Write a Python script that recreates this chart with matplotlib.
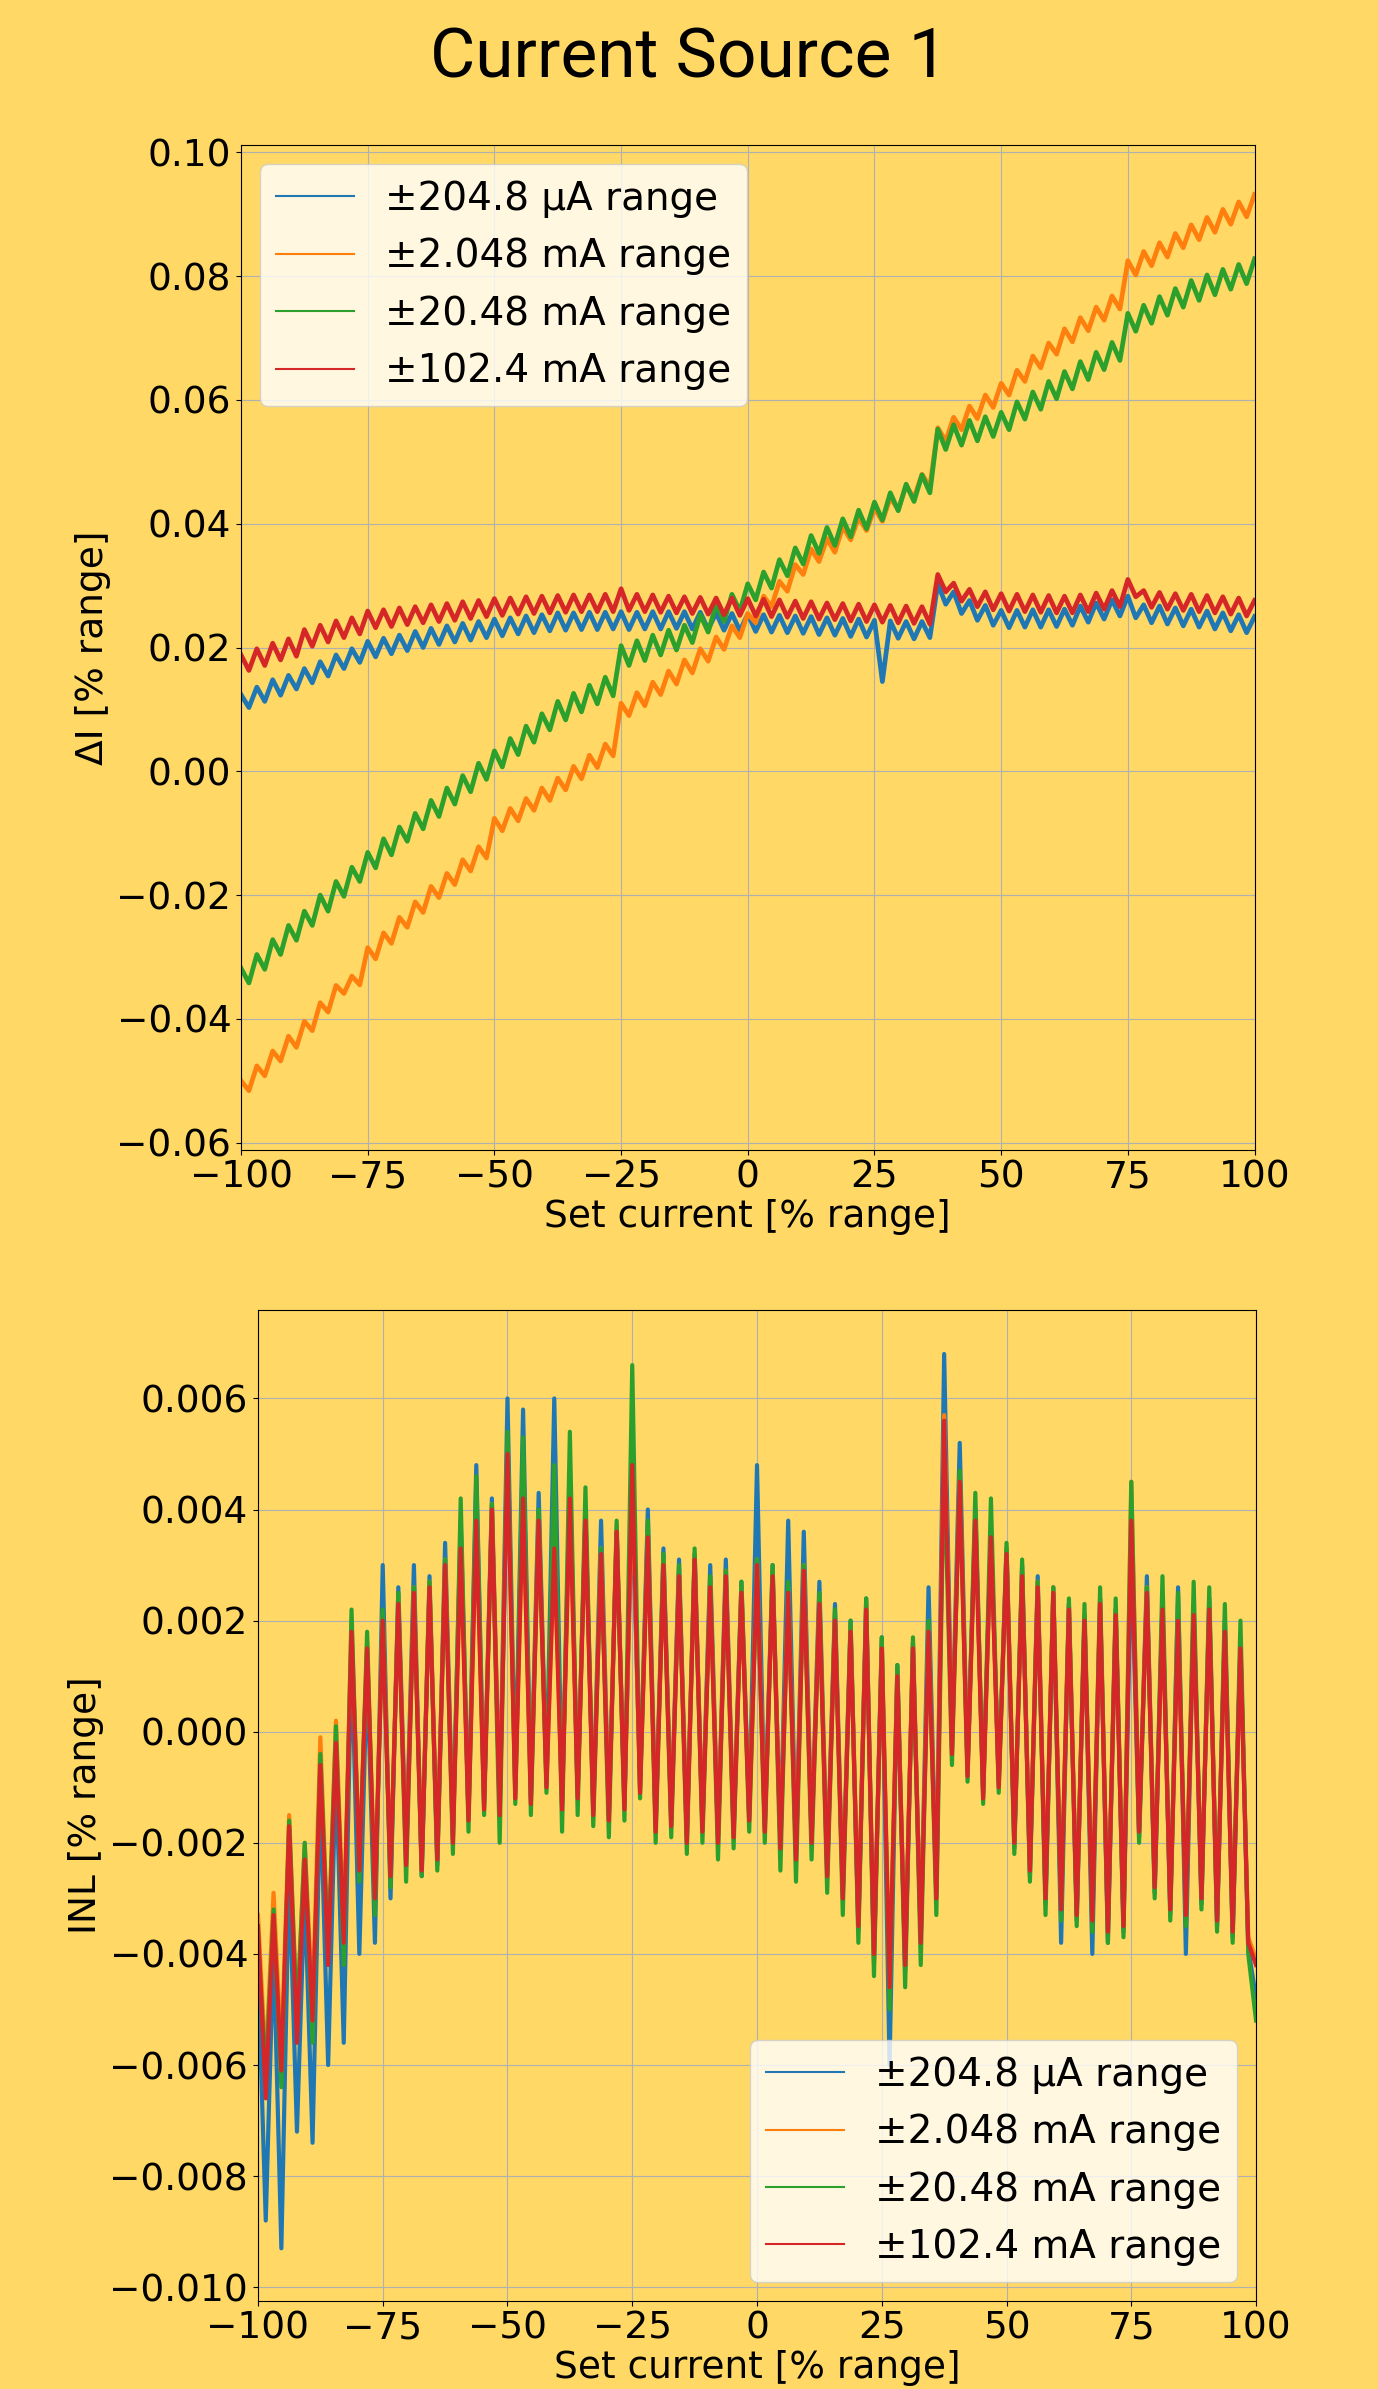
"""Current Source 1: DAC error (top) and INL (bottom) for four current ranges."""

import matplotlib

matplotlib.use("Agg")
import matplotlib.pyplot as plt
import numpy as np

BG = "#FFD865"
COLORS = ["#1f77b4", "#ff7f0e", "#2ca02c", "#d62728"]
FONT = 27

LABELS = ["±204.8 µA range", "±2.048 mA range", "±20.48 mA range", "±102.4 mA range"]

# set current sweep, % of range (129 evenly spaced points)
SET_CURRENT = np.linspace(-100, 100, 129)

# delta I, in units of 1e-4 % range
DI_204UA = [
    124, 103, 136, 113, 148, 123, 155, 133, 166, 143, 177, 154, 188, 166, 198, 176, 210,
    185, 215, 190, 220, 195, 226, 200, 231, 205, 235, 209, 239, 212, 242, 216, 246,
    219, 248, 222, 251, 224, 253, 227, 256, 228, 256, 229, 257, 229, 257, 230, 258,
    229, 257, 230, 258, 230, 258, 231, 258, 230, 257, 229, 256, 228, 255, 227, 254,
    226, 253, 225, 252, 224, 251, 223, 250, 221, 248, 220, 247, 218, 246, 217, 244,
    145, 243, 215, 242, 214, 242, 216, 303, 270, 290, 255, 276, 244, 268, 236, 260,
    232, 260, 233, 261, 233, 261, 234, 262, 236, 267, 241, 272, 246, 277, 251, 283,
    248, 269, 240, 267, 238, 264, 235, 262, 233, 259, 230, 256, 227, 253, 224, 250,
]
DI_2MA = [
    -500, -516, -476, -492, -452, -468, -428, -446, -404, -419, -374, -389, -346, -359, -331, -345, -285,
    -303, -261, -278, -236, -252, -211, -228, -186, -204, -165, -183, -143, -161, -122, -140, -76,
    -96, -60, -80, -44, -63, -27, -47, -11, -30, 8, -12, 26, 6, 44, 25, 110,
    90, 127, 106, 144, 124, 162, 141, 180, 159, 198, 178, 217, 197, 235, 216, 255,
    240, 283, 266, 307, 291, 334, 318, 359, 339, 376, 354, 395, 374, 410, 389, 425,
    404, 442, 423, 461, 442, 480, 460, 555, 534, 572, 552, 590, 570, 608, 588, 627,
    608, 648, 630, 671, 652, 692, 674, 715, 694, 733, 712, 750, 729, 768, 747, 825,
    802, 840, 817, 854, 831, 869, 846, 883, 859, 895, 871, 908, 884, 920, 896, 932,
]
DI_20MA = [
    -318, -342, -296, -320, -272, -296, -249, -273, -226, -249, -200, -226, -178, -202, -155, -178, -131,
    -156, -109, -135, -90, -113, -68, -93, -47, -73, -27, -53, -7, -33, 13, -13, 33,
    7, 53, 27, 73, 47, 93, 67, 113, 83, 126, 96, 139, 109, 152, 122, 203,
    171, 211, 179, 220, 188, 228, 196, 236, 208, 253, 225, 270, 242, 286, 259, 303,
    277, 322, 296, 342, 316, 361, 335, 381, 352, 394, 365, 408, 379, 422, 392, 435,
    406, 450, 421, 464, 436, 479, 450, 553, 520, 560, 527, 567, 534, 573, 541, 580,
    552, 597, 569, 613, 585, 630, 602, 646, 618, 662, 633, 677, 649, 693, 664, 740,
    711, 753, 724, 767, 737, 780, 750, 793, 761, 802, 770, 811, 779, 819, 788, 828,
]
DI_102MA = [
    188, 163, 198, 171, 207, 180, 214, 186, 229, 202, 236, 209, 243, 216, 248, 222, 259,
    232, 261, 234, 264, 237, 266, 240, 269, 242, 271, 244, 274, 247, 276, 250, 279,
    252, 280, 254, 282, 255, 283, 256, 284, 257, 285, 258, 285, 258, 286, 258, 295,
    260, 286, 258, 285, 257, 283, 256, 282, 255, 281, 254, 280, 253, 280, 252, 279,
    251, 278, 250, 277, 249, 275, 247, 274, 246, 272, 245, 271, 243, 270, 242, 269,
    241, 268, 240, 267, 239, 266, 238, 318, 290, 304, 275, 294, 266, 290, 261, 287,
    259, 286, 258, 285, 257, 284, 256, 283, 256, 285, 258, 288, 262, 292, 266, 310,
    282, 292, 265, 289, 262, 287, 260, 286, 258, 284, 256, 282, 254, 280, 251, 276,
]

# INL, in units of 1e-5 % range
INL_204UA = [
    -420, -880, -380, -930, -250, -720, -280, -740, -100, -600, -60, -560, 150, -400, 120, -380, 300,
    -300, 260, -220, 300, -260, 280, -240, 340, -180, 380, -150, 480, -130, 420, -140, 600,
    -100, 580, -120, 430, -90, 600, -130, 460, -110, 400, -140, 380, -150, 360, -130, 420,
    -100, 400, -170, 330, -160, 310, -190, 320, -170, 300, -190, 310, -180, 270, -150, 480,
    -170, 300, -200, 380, -220, 360, -190, 270, -250, 230, -290, 200, -360, 240, -410, 170,
    -600, 120, -430, 160, -370, 260, -290, 680, -30, 520, -70, 400, -110, 360, -90, 330,
    -210, 300, -260, 280, -310, 260, -380, 230, -340, 210, -400, 240, -380, 220, -360, 330,
    -190, 280, -290, 240, -330, 260, -400, 230, -310, 240, -350, 200, -370, 160, -390, -480,
]
INL_2MA = [
    -330, -600, -290, -580, -150, -520, -200, -490, -10, -400, 20, -360, 200, -240, 160, -290, 210,
    -250, 240, -230, 260, -240, 270, -220, 310, -190, 340, -150, 390, -130, 410, -140, 510,
    -110, 430, -120, 390, -90, 340, -130, 430, -110, 390, -140, 330, -150, 370, -130, 450,
    -100, 360, -170, 310, -160, 290, -190, 320, -170, 270, -190, 290, -180, 260, -150, 310,
    -170, 290, -200, 260, -220, 300, -190, 240, -250, 210, -290, 190, -340, 230, -420, 160,
    -450, 110, -410, 160, -370, 190, -290, 570, -30, 460, -70, 390, -110, 360, -90, 330,
    -190, 290, -240, 270, -290, 260, -310, 230, -320, 210, -330, 240, -350, 220, -340, 450,
    -170, 260, -270, 230, -310, 210, -320, 220, -290, 230, -330, 190, -350, 160, -370, -410,
]
INL_20MA = [
    -370, -620, -320, -640, -160, -520, -200, -560, -40, -400, 10, -420, 220, -270, 180, -330, 220,
    -280, 250, -270, 260, -260, 270, -250, 310, -220, 420, -180, 460, -150, 410, -200, 540,
    -130, 530, -150, 400, -110, 480, -180, 540, -150, 440, -170, 330, -190, 380, -160, 660,
    -120, 380, -200, 320, -190, 300, -220, 330, -200, 280, -230, 290, -210, 270, -180, 310,
    -200, 300, -250, 270, -270, 300, -230, 250, -290, 220, -330, 200, -380, 240, -440, 170,
    -500, 120, -460, 170, -420, 200, -330, 500, -60, 470, -90, 430, -130, 420, -110, 340,
    -220, 310, -270, 270, -330, 260, -340, 240, -350, 230, -360, 260, -380, 240, -370, 450,
    -200, 260, -300, 280, -340, 250, -350, 270, -320, 260, -360, 230, -380, 200, -400, -520,
]
INL_102MA = [
    -350, -660, -330, -610, -170, -560, -230, -520, -60, -420, -20, -380, 180, -250, 150, -300, 200,
    -260, 230, -240, 250, -250, 260, -230, 300, -200, 330, -160, 380, -140, 400, -150, 500,
    -120, 420, -130, 380, -100, 330, -140, 420, -120, 380, -150, 320, -160, 360, -140, 480,
    -110, 350, -180, 300, -170, 280, -200, 310, -180, 260, -200, 280, -190, 250, -160, 300,
    -180, 280, -210, 250, -230, 290, -200, 230, -260, 200, -300, 180, -350, 220, -400, 150,
    -460, 100, -420, 150, -380, 180, -300, 560, -40, 450, -80, 380, -120, 350, -100, 320,
    -200, 280, -250, 260, -300, 250, -320, 220, -330, 200, -340, 230, -360, 210, -350, 380,
    -180, 250, -280, 220, -320, 200, -330, 210, -300, 220, -340, 180, -360, 150, -380, -420,
]

DI_SERIES = [DI_204UA, DI_2MA, DI_20MA, DI_102MA]
INL_SERIES = [INL_204UA, INL_2MA, INL_20MA, INL_102MA]


def style_axis(ax):
    ax.set_facecolor(BG)
    ax.grid(True)
    ax.set_xlim(-100, 100)
    ax.set_xticks([-100, -75, -50, -25, 0, 25, 50, 75, 100])
    ax.tick_params(labelsize=FONT)
    ax.set_xlabel("Set current [% range]", fontsize=FONT, labelpad=2)


def add_legend(ax, loc):
    leg = ax.legend(loc=loc, fontsize=28)
    for line in leg.get_lines():
        line.set_linewidth(1.5)


def main():
    fig = plt.figure(figsize=(13.78, 23.89), dpi=100)
    fig.patch.set_facecolor(BG)

    fig.text(0.5, 0.9757, "Current Source 1", ha="center", va="center",
             fontsize=50, family="Roboto")

    ax1 = fig.add_axes([0.1749, 0.5186, 0.7355, 0.4207])
    for vals, color, label in zip(DI_SERIES, COLORS, LABELS):
        ax1.plot(SET_CURRENT, np.array(vals) * 1e-4, color=color, lw=3.4, label=label)
    style_axis(ax1)
    ax1.set_ylim(-0.0612, 0.1012)
    ax1.set_yticks(np.arange(-0.06, 0.101, 0.02))
    ax1.set_ylabel("ΔI [% range]", fontsize=FONT)
    add_legend(ax1, "upper left")

    ax2 = fig.add_axes([0.1872, 0.0368, 0.7243, 0.4148])
    for vals, color, label in zip(INL_SERIES, COLORS, LABELS):
        ax2.plot(SET_CURRENT, np.array(vals) * 1e-5, color=color, lw=3.0, label=label)
    style_axis(ax2)
    ax2.set_ylim(-0.01025, 0.00759)
    ax2.set_yticks(np.arange(-0.010, 0.0061, 0.002))
    ax2.set_ylabel("INL [% range]", fontsize=FONT)
    add_legend(ax2, "lower right")

    fig.savefig("out.png", dpi=100, facecolor=BG)


if __name__ == "__main__":
    main()
